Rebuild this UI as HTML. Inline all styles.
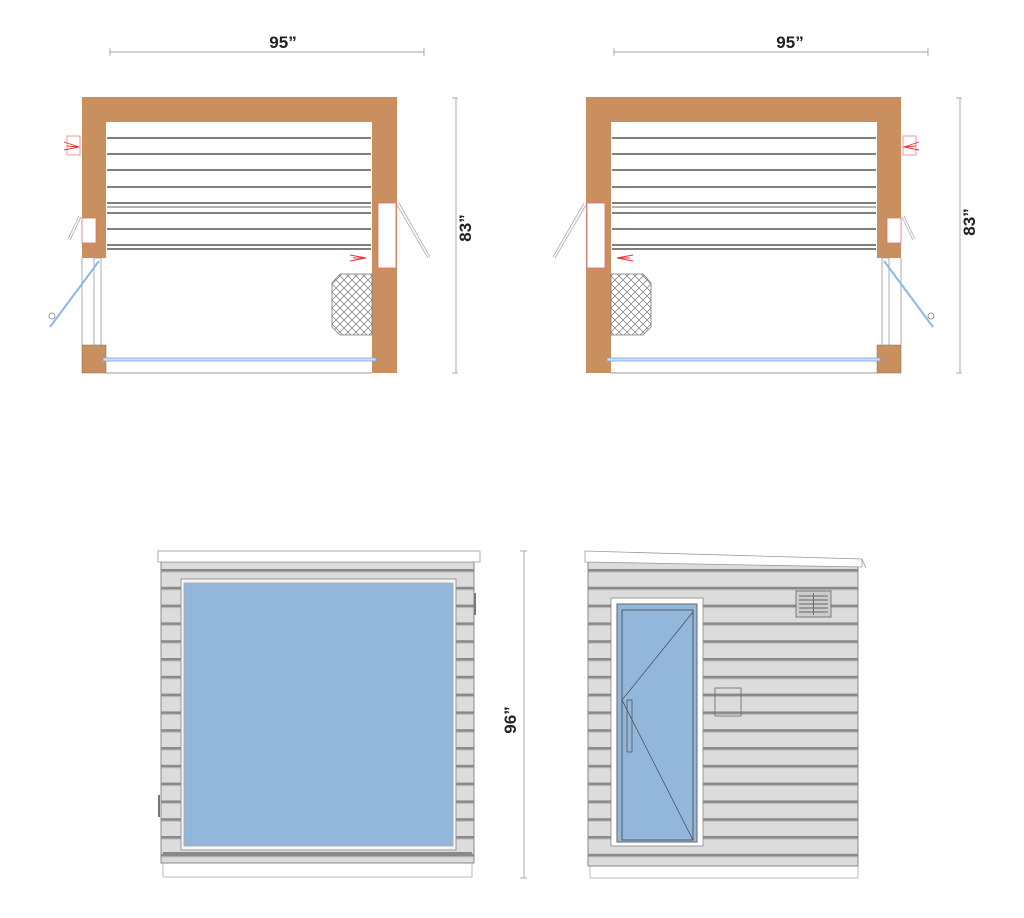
<!DOCTYPE html>
<html><head><meta charset="utf-8"><style>body{margin:0;background:#fff}svg{display:block}text{font-family:"Liberation Sans",sans-serif;font-weight:bold;fill:#222}</style></head>
<body>
<svg width="1024" height="918" viewBox="0 0 1024 918" xmlns="http://www.w3.org/2000/svg">
<defs>
<pattern id="sid" x="0" y="569" width="20" height="17.8" patternUnits="userSpaceOnUse">
<rect width="20" height="17.8" fill="#dcdcdc"/><rect y="0" width="20" height="2.5" fill="#8a8a8a"/><rect y="2.5" width="20" height="1" fill="#bbb"/>
</pattern>
<pattern id="hatch" width="8" height="8" patternUnits="userSpaceOnUse">
<path d="M0 0L8 8M8 0L0 8" stroke="#777" stroke-width="0.7"/>
</pattern>
<g id="plan">
<rect x="82" y="97" width="315" height="276" fill="#fff"/>
<path d="M82 97H397V373H372V122H106V258H82Z" fill="#c98f5f"/>
<rect x="82" y="345" width="24" height="28" fill="#c98f5f" stroke="#8a6a4a" stroke-width="0.5"/>
<line x1="106" y1="373" x2="372" y2="373" stroke="#999" stroke-width="1"/>
<line x1="82" y1="258" x2="82" y2="345" stroke="#999" stroke-width="0.8"/>
<g stroke="#555" stroke-width="1.6">
<line x1="107" y1="138" x2="371" y2="138"/><line x1="107" y1="154" x2="371" y2="154"/><line x1="107" y1="170" x2="371" y2="170"/><line x1="107" y1="187" x2="371" y2="187"/><line x1="107" y1="203" x2="371" y2="203"/><line x1="107" y1="213" x2="371" y2="213"/><line x1="107" y1="229" x2="371" y2="229"/><line x1="107" y1="245" x2="371" y2="245"/><line x1="107" y1="249" x2="371" y2="249"/>
</g>
<line x1="107" y1="207" x2="371" y2="207" stroke="#999" stroke-width="1.4"/>
<path d="M332 283L340 274H372V335H340L332 327Z" fill="url(#hatch)" stroke="#777" stroke-width="0.8"/>
<rect x="103" y="358" width="273" height="3" fill="#cfe0f5" stroke="#7aa6dc" stroke-width="0.8"/>
<rect x="94" y="258" width="7" height="87" fill="#fff" stroke="#999" stroke-width="0.8"/>
<line x1="50" y1="327" x2="99" y2="261" stroke="#8cb8ee" stroke-width="2"/>
<circle cx="52" cy="316" r="3" fill="none" stroke="#777" stroke-width="0.8"/>
<rect x="378" y="203" width="18" height="65" fill="#fff" stroke="#e07070" stroke-width="0.8"/>
<path d="M397 205L428 258M399 203L430 257" stroke="#aab" stroke-width="0.8"/>
<rect x="82" y="218" width="14" height="25" fill="#fff" stroke="#e07070" stroke-width="0.8"/>
<path d="M81 217L70 240M79 216L68 239" stroke="#aab" stroke-width="0.8"/>
<rect x="67" y="136" width="13" height="19" fill="none" stroke="#f08080" stroke-width="0.8"/>
<path d="M64 142L79 147L64 150M67 146L79 147" stroke="#e33" stroke-width="0.9" fill="none"/>
<path d="M350 255L366 258L350 261M353 258H366" stroke="#e33" stroke-width="0.9" fill="none"/>
</g>
</defs>

<!-- top left plan -->
<use href="#plan"/>
<!-- top right plan (mirror) -->
<use href="#plan" transform="translate(983 0) scale(-1 1)"/>

<!-- dims top -->
<g stroke="#888" stroke-width="0.7">
<line x1="110" y1="52" x2="424" y2="52"/><line x1="110" y1="48" x2="110" y2="56"/><line x1="424" y1="48" x2="424" y2="56"/>
<line x1="614" y1="52" x2="928" y2="52"/><line x1="614" y1="48" x2="614" y2="56"/><line x1="928" y1="48" x2="928" y2="56"/>
<line x1="456" y1="98" x2="456" y2="373"/><line x1="452" y1="98" x2="458" y2="98"/><line x1="452" y1="373" x2="458" y2="373"/>
<line x1="960" y1="98" x2="960" y2="373"/><line x1="956" y1="98" x2="962" y2="98"/><line x1="956" y1="373" x2="962" y2="373"/>
<line x1="524" y1="551" x2="524" y2="878"/><line x1="520" y1="551" x2="527" y2="551"/><line x1="520" y1="878" x2="527" y2="878"/>
</g>
<text x="283" y="48" font-size="17" text-anchor="middle">95”</text>
<text x="790" y="48" font-size="17" text-anchor="middle">95”</text>
<text transform="translate(471 228) rotate(-90)" font-size="17" text-anchor="middle">83”</text>
<text transform="translate(975 222) rotate(-90)" font-size="17" text-anchor="middle">83”</text>
<text transform="translate(516 720) rotate(-90)" font-size="17" text-anchor="middle">96”</text>

<!-- bottom left elevation -->
<rect x="163" y="862" width="309" height="15" fill="#fff" stroke="#aaa" stroke-width="0.8"/>
<rect x="161" y="562" width="313" height="301" fill="url(#sid)" stroke="#888" stroke-width="1"/>
<rect x="158" y="551" width="322" height="11" fill="#fff" stroke="#999" stroke-width="0.8"/>
<rect x="163" y="564" width="309" height="6" fill="#dcdcdc"/>
<line x1="163" y1="570" x2="472" y2="570" stroke="#888" stroke-width="2"/>
<rect x="181" y="579" width="275" height="271" fill="#f4f4f4" stroke="#888" stroke-width="0.8"/>
<rect x="184" y="583" width="269" height="263" fill="#93b6db" stroke="#aaa" stroke-width="0.8"/>
<line x1="163" y1="853" x2="472" y2="853" stroke="#888" stroke-width="2"/>
<rect x="474" y="593" width="2" height="22" fill="#777"/>
<rect x="158" y="795" width="2" height="22" fill="#777"/>

<!-- bottom right elevation -->
<rect x="590" y="866" width="268" height="12" fill="#fff" stroke="#aaa" stroke-width="0.8"/>
<rect x="588" y="562" width="270" height="304" fill="url(#sid)" stroke="#888" stroke-width="1"/>
<path d="M585 551L862 559V567L585 562Z" fill="#fff" stroke="#999" stroke-width="0.8"/>
<line x1="862" y1="559" x2="866" y2="568" stroke="#999" stroke-width="0.8"/>
<rect x="611" y="598" width="92" height="248" fill="#fff" stroke="#888" stroke-width="0.8"/>
<rect x="617" y="604" width="80" height="238" fill="#93b6db" stroke="#666" stroke-width="1"/>
<rect x="622" y="610" width="71" height="230" fill="none" stroke="#444" stroke-width="0.8"/>
<path d="M693 612L622 700L693 840" fill="none" stroke="#445" stroke-width="0.7"/>
<rect x="627" y="700" width="5" height="52" fill="none" stroke="#555" stroke-width="0.8"/>
<rect x="796" y="591" width="35" height="26" fill="#ccc" stroke="#666" stroke-width="0.8"/>
<g stroke="#666" stroke-width="1"><line x1="799" y1="596" x2="828" y2="596"/><line x1="799" y1="600" x2="828" y2="600"/><line x1="799" y1="604" x2="828" y2="604"/><line x1="799" y1="608" x2="828" y2="608"/><line x1="799" y1="612" x2="828" y2="612"/><line x1="813.5" y1="593" x2="813.5" y2="615"/></g>
<rect x="715" y="688" width="26" height="28" fill="none" stroke="#666" stroke-width="0.8"/>
</svg>
</body></html>
